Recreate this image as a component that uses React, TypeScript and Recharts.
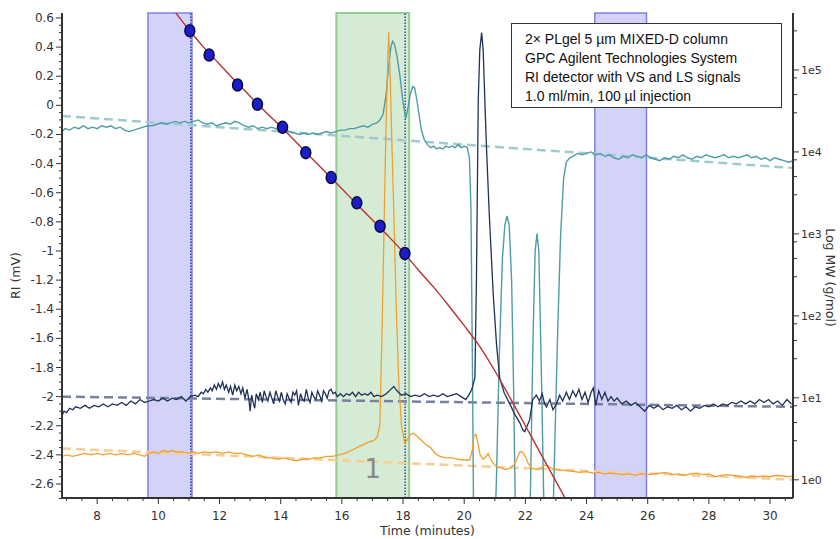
import React from "react";
import { ComposedChart, Line, Scatter, XAxis, YAxis, ReferenceArea, ReferenceLine, Label } from "recharts";

type Pt = [number, number];

// axis ticks
const timeTicks = [8, 10, 12, 14, 16, 18, 20, 22, 24, 26, 28, 30];
const riTicks = [0.6, 0.4, 0.2, 0, -0.2, -0.4, -0.6, -0.8, -1, -1.2, -1.4, -1.6, -1.8, -2, -2.2, -2.4, -2.6];
const mwTicks = [1, 10, 100, 1000, 10000, 100000];
const mwMinorSteps = [3, 5, 8];

// light scattering trace (teal)
const lsTrace: Pt[] = [
  [6.85, -0.18], [6.95, -0.16], [7.1, -0.17], [7.25, -0.15], [7.4, -0.16], [7.55, -0.14], [7.7, -0.16], [7.85, -0.15],
  [8.0, -0.16], [8.15, -0.14], [8.3, -0.15], [8.45, -0.14], [8.6, -0.16], [8.75, -0.15], [8.9, -0.17], [9.05, -0.18],
  [9.2, -0.17], [9.35, -0.16], [9.5, -0.15], [9.65, -0.14], [9.8, -0.14], [9.95, -0.13], [10.1, -0.12], [10.25, -0.13],
  [10.4, -0.12], [10.55, -0.11], [10.7, -0.12], [10.85, -0.11], [11.0, -0.12], [11.15, -0.11], [11.3, -0.1], [11.45, -0.12],
  [11.6, -0.13], [11.75, -0.12], [11.9, -0.14], [12.05, -0.13], [12.2, -0.12], [12.35, -0.13], [12.5, -0.11], [12.65, -0.12],
  [12.8, -0.14], [12.95, -0.15], [13.1, -0.14], [13.25, -0.16], [13.4, -0.15], [13.55, -0.16], [13.7, -0.15], [13.85, -0.16],
  [14.0, -0.15], [14.15, -0.17], [14.3, -0.18], [14.45, -0.19], [14.6, -0.2], [14.75, -0.19], [14.9, -0.2], [15.05, -0.19],
  [15.2, -0.2], [15.35, -0.19], [15.5, -0.18], [15.65, -0.19], [15.8, -0.18], [15.95, -0.17], [16.1, -0.17], [16.25, -0.16],
  [16.4, -0.16], [16.55, -0.15], [16.7, -0.14], [16.85, -0.15], [17.0, -0.13], [17.15, -0.12], [17.25, -0.1], [17.35, -0.06],
  [17.45, 0.08], [17.52, 0.25], [17.6, 0.4], [17.66, 0.44], [17.72, 0.42], [17.8, 0.34], [17.9, 0.2], [18.0, 0.02],
  [18.09, -0.09], [18.16, -0.02], [18.24, 0.08], [18.32, 0.13], [18.38, 0.12], [18.45, 0.04], [18.52, -0.06], [18.6, -0.17],
  [18.7, -0.24], [18.8, -0.27], [18.9, -0.29], [19.0, -0.28], [19.1, -0.3], [19.2, -0.29], [19.3, -0.3], [19.4, -0.28],
  [19.5, -0.29], [19.6, -0.28], [19.7, -0.29], [19.8, -0.27], [19.9, -0.29], [20.0, -0.28], [20.1, -0.29], [20.17, -0.36],
  [20.22, -0.7], [20.27, -1.8], [20.32, -3.2], [20.95, -3.2], [21.05, -2.6], [21.15, -1.7], [21.25, -1.05], [21.33, -0.82],
  [21.4, -0.76], [21.47, -0.82], [21.55, -1.2], [21.62, -2.0], [21.68, -2.9], [21.75, -3.2], [22.1, -3.2], [22.17, -2.6],
  [22.25, -1.6], [22.32, -1.0], [22.38, -0.88], [22.44, -1.0], [22.52, -1.8], [22.6, -2.7], [22.66, -3.2], [22.86, -3.2],
  [22.93, -2.6], [23.05, -1.6], [23.15, -0.9], [23.25, -0.5], [23.34, -0.39], [23.45, -0.36], [23.55, -0.35], [23.7, -0.33],
  [23.85, -0.34], [24.0, -0.33], [24.15, -0.32], [24.3, -0.34], [24.45, -0.33], [24.6, -0.35], [24.75, -0.34], [24.9, -0.36],
  [25.05, -0.37], [25.2, -0.35], [25.35, -0.36], [25.5, -0.34], [25.65, -0.35], [25.8, -0.36], [25.95, -0.34], [26.1, -0.36],
  [26.25, -0.37], [26.4, -0.38], [26.55, -0.36], [26.7, -0.37], [26.85, -0.35], [27.0, -0.36], [27.15, -0.34], [27.3, -0.36],
  [27.45, -0.37], [27.6, -0.35], [27.75, -0.36], [27.9, -0.34], [28.05, -0.35], [28.2, -0.36], [28.35, -0.35], [28.5, -0.34],
  [28.65, -0.36], [28.8, -0.35], [28.95, -0.36], [29.1, -0.35], [29.25, -0.34], [29.4, -0.36], [29.55, -0.35], [29.7, -0.37],
  [29.85, -0.36], [30.0, -0.38], [30.15, -0.36], [30.3, -0.37], [30.45, -0.38], [30.6, -0.39], [30.75, -0.38],
];

// viscometer trace (navy)
const vsTrace: Pt[] = [
  [6.85, -2.13], [6.92, -2.1], [7.0, -2.11], [7.1, -2.08], [7.2, -2.09], [7.3, -2.07], [7.45, -2.08], [7.6, -2.06],
  [7.75, -2.08], [7.9, -2.06], [8.05, -2.07], [8.2, -2.05], [8.35, -2.07], [8.5, -2.05], [8.65, -2.06], [8.8, -2.04],
  [8.95, -2.06], [9.1, -2.03], [9.25, -2.05], [9.4, -2.02], [9.55, -2.04], [9.7, -2.03], [9.85, -2.02], [10.0, -2.03],
  [10.15, -2.01], [10.3, -2.03], [10.45, -2.01], [10.6, -2.02], [10.75, -2.0], [10.9, -2.03], [11.05, -2.0], [11.2, -1.99],
  [11.3, -2.0], [11.4, -1.97], [11.47, -1.98], [11.55, -1.95], [11.62, -1.97], [11.7, -1.94], [11.76, -1.96], [11.83, -1.92],
  [11.9, -1.95], [11.96, -1.91], [12.03, -1.94], [12.1, -1.9], [12.16, -1.95], [12.22, -1.92], [12.3, -1.97], [12.36, -1.93],
  [12.43, -1.99], [12.5, -1.92], [12.56, -1.96], [12.63, -1.93], [12.7, -1.98], [12.76, -1.94], [12.83, -2.01], [12.9, -1.95],
  [12.96, -2.02], [13.0, -2.1], [13.05, -1.99], [13.1, -2.04], [13.15, -2.08], [13.2, -1.98], [13.27, -2.02], [13.33, -1.97],
  [13.4, -2.04], [13.46, -1.96], [13.52, -2.0], [13.58, -2.03], [13.65, -1.97], [13.71, -2.01], [13.77, -2.05], [13.84, -1.96],
  [13.9, -2.0], [13.96, -2.03], [14.02, -1.97], [14.08, -2.02], [14.15, -2.05], [14.21, -1.98], [14.27, -2.01], [14.34, -2.04],
  [14.4, -1.97], [14.46, -1.99], [14.52, -1.96], [14.58, -2.06], [14.65, -1.98], [14.71, -2.02], [14.77, -2.03], [14.84, -1.95],
  [14.9, -2.01], [14.96, -2.04], [15.02, -1.97], [15.08, -2.0], [15.15, -2.02], [15.21, -1.96], [15.27, -1.99], [15.34, -2.03],
  [15.4, -1.96], [15.46, -1.98], [15.52, -2.01], [15.58, -1.96], [15.65, -1.95], [15.71, -1.98], [15.78, -1.97], [15.85, -2.0],
  [15.95, -1.98], [16.05, -2.0], [16.15, -1.98], [16.25, -1.99], [16.35, -1.97], [16.45, -2.0], [16.55, -1.97], [16.65, -1.99],
  [16.75, -1.98], [16.85, -1.99], [16.95, -1.97], [17.05, -2.0], [17.15, -1.99], [17.3, -2.0], [17.45, -1.98], [17.6, -1.95],
  [17.7, -1.93], [17.8, -1.96], [17.95, -1.99], [18.1, -1.98], [18.25, -2.0], [18.4, -1.99], [18.55, -2.0], [18.7, -1.98],
  [18.85, -2.0], [19.0, -1.99], [19.15, -2.0], [19.3, -1.98], [19.45, -2.0], [19.6, -1.99], [19.75, -1.98], [19.9, -2.0],
  [20.05, -2.02], [20.15, -1.99], [20.25, -1.95], [20.35, -1.87], [20.4, -1.2], [20.46, 0.04], [20.51, 0.38], [20.57, 0.5],
  [20.62, 0.38], [20.68, 0.0], [20.73, -0.3], [20.82, -0.75], [20.95, -1.3], [21.06, -1.65], [21.16, -1.87], [21.3, -1.97],
  [21.49, -2.05], [21.65, -2.12], [21.82, -2.18], [21.92, -2.23], [21.98, -2.24], [22.06, -2.2], [22.14, -2.16], [22.24, -2.02],
  [22.36, -1.99], [22.46, -2.03], [22.55, -1.98], [22.63, -2.05], [22.69, -2.07], [22.8, -2.02], [22.9, -2.09], [23.02, -2.05],
  [23.12, -1.99], [23.22, -2.03], [23.34, -1.97], [23.44, -2.02], [23.55, -1.96], [23.65, -2.0], [23.75, -1.95], [23.85, -2.02],
  [23.95, -1.97], [24.05, -2.04], [24.15, -1.97], [24.22, -1.94], [24.3, -2.06], [24.4, -1.96], [24.5, -2.02], [24.6, -1.97],
  [24.7, -2.03], [24.8, -2.0], [24.9, -2.03], [25.0, -2.01], [25.15, -2.05], [25.3, -2.03], [25.45, -2.06], [25.6, -2.04],
  [25.75, -2.07], [25.9, -2.1], [26.05, -2.06], [26.2, -2.08], [26.35, -2.06], [26.5, -2.09], [26.65, -2.07], [26.8, -2.08],
  [26.95, -2.06], [27.1, -2.09], [27.25, -2.07], [27.4, -2.1], [27.55, -2.07], [27.7, -2.08], [27.85, -2.06], [28.0, -2.07],
  [28.15, -2.05], [28.3, -2.07], [28.45, -2.05], [28.6, -2.06], [28.75, -2.04], [28.9, -2.05], [29.05, -2.03], [29.2, -2.05],
  [29.35, -2.03], [29.5, -2.05], [29.65, -2.02], [29.8, -2.04], [29.95, -2.02], [30.1, -2.05], [30.25, -2.03], [30.4, -2.06],
  [30.55, -2.02], [30.7, -2.05],
];

// refractive index trace (orange)
const riTrace: Pt[] = [
  [6.85, -2.41], [7.0, -2.4], [7.2, -2.41], [7.4, -2.4], [7.6, -2.39], [7.8, -2.4], [8.0, -2.39], [8.2, -2.4],
  [8.4, -2.39], [8.6, -2.4], [8.8, -2.39], [9.0, -2.4], [9.2, -2.39], [9.4, -2.4], [9.55, -2.41], [9.7, -2.39],
  [9.85, -2.38], [10.0, -2.39], [10.15, -2.37], [10.3, -2.38], [10.45, -2.37], [10.6, -2.38], [10.8, -2.38], [11.0, -2.39],
  [11.15, -2.38], [11.3, -2.39], [11.5, -2.38], [11.7, -2.385], [11.9, -2.38], [12.1, -2.39], [12.3, -2.38], [12.5, -2.39],
  [12.7, -2.39], [12.9, -2.4], [13.1, -2.41], [13.3, -2.4], [13.5, -2.42], [13.7, -2.42], [13.9, -2.43], [14.1, -2.42],
  [14.3, -2.43], [14.5, -2.44], [14.7, -2.43], [14.9, -2.43], [15.1, -2.42], [15.3, -2.42], [15.5, -2.41], [15.7, -2.41],
  [15.9, -2.4], [16.1, -2.39], [16.3, -2.37], [16.5, -2.35], [16.7, -2.33], [16.9, -2.31], [17.05, -2.3], [17.15, -2.28],
  [17.24, -2.2], [17.32, -1.5], [17.4, -0.6], [17.46, 0.0], [17.53, 0.5], [17.58, 0.2], [17.64, -0.3], [17.7, -0.75],
  [17.78, -1.4], [17.86, -1.9], [17.95, -2.2], [18.06, -2.32], [18.15, -2.29], [18.25, -2.26], [18.33, -2.25], [18.45, -2.27],
  [18.6, -2.3], [18.75, -2.33], [18.9, -2.35], [19.05, -2.39], [19.2, -2.41], [19.4, -2.42], [19.6, -2.42], [19.8, -2.43],
  [20.0, -2.435], [20.18, -2.435], [20.26, -2.37], [20.32, -2.27], [20.38, -2.26], [20.45, -2.32], [20.52, -2.4], [20.62, -2.43],
  [20.72, -2.41], [20.78, -2.39], [20.84, -2.42], [20.92, -2.45], [21.05, -2.48], [21.2, -2.49], [21.35, -2.5], [21.5, -2.49],
  [21.62, -2.47], [21.72, -2.43], [21.82, -2.38], [21.9, -2.38], [22.0, -2.41], [22.1, -2.46], [22.2, -2.49], [22.35, -2.5],
  [22.5, -2.49], [22.62, -2.47], [22.72, -2.475], [22.85, -2.49], [23.0, -2.5], [23.2, -2.505], [23.4, -2.51], [23.6, -2.515],
  [23.8, -2.52], [24.0, -2.515], [24.2, -2.525], [24.4, -2.52], [24.6, -2.53], [24.8, -2.525], [25.0, -2.53], [25.2, -2.535],
  [25.4, -2.53], [25.6, -2.54], [25.8, -2.53], [26.0, -2.535], [26.2, -2.53], [26.4, -2.525], [26.6, -2.52], [26.8, -2.535],
  [27.0, -2.53], [27.2, -2.54], [27.4, -2.53], [27.6, -2.525], [27.8, -2.535], [28.0, -2.53], [28.2, -2.55], [28.4, -2.54],
  [28.6, -2.535], [28.8, -2.54], [29.0, -2.545], [29.2, -2.555], [29.4, -2.545], [29.6, -2.55], [29.8, -2.545], [30.0, -2.55],
  [30.2, -2.54], [30.4, -2.545], [30.6, -2.55], [30.75, -2.545],
];

// baselines (dashed)
const lsBaseline: Pt[] = [[6.85, -0.073], [30.75, -0.43]];
const vsBaseline: Pt[] = [[6.85, -2.0], [30.75, -2.07]];
const riBaseline: Pt[] = [[6.85, -2.356], [30.75, -2.57]];

// calibration curve, MW (g/mol) vs retention time
const calibration: Pt[] = [
  [10.5, 537000], [11.0, 309000], [11.5, 186000], [12.0, 117500], [12.5, 74100], [13.0, 47900], [13.5, 30900],
  [14.0, 20400], [14.5, 13200], [15.0, 8510], [15.5, 5500], [16.0, 3550], [16.5, 2290], [17.0, 1480], [17.5, 955],
  [18.0, 603], [18.5, 363], [19.0, 224], [19.5, 132], [20.0, 75.9], [20.5, 42.7], [21.0, 21.4], [21.5, 10.0],
  [22.0, 4.57], [22.5, 2.09], [23.0, 0.955], [23.5, 0.437],
];

// calibration standards
const standards: Pt[] = [
  [11.03, 300000], [11.66, 152000], [12.59, 65600], [13.24, 38200], [14.06, 20000],
  [14.82, 9800], [15.65, 4860], [16.49, 2390], [17.25, 1240], [18.06, 575],
];

// integration / baseline regions
const baselineRegions: Pt[] = [[9.66, 11.1], [24.27, 25.96]];
const peakRegion: Pt = [15.82, 18.2];
const markerTimes = [11.06, 18.07];

const rows = (pts: Pt[]) => pts.map(([t, v]) => ({ t, v }));

const axisColor = "#333";
const font = "DejaVu Sans";

const timeMinor: number[] = [];
for (let k = 14; k <= 61; k++) timeMinor.push(k / 2);
const riMinor: number[] = [];
for (let k = 12; k >= -54; k--) riMinor.push(k / 20);
const mwAll: number[] = [];
mwTicks.forEach((m) => {
  mwAll.push(m);
  mwMinorSteps.forEach((s) => m * s < 495000 && mwAll.push(m * s));
});

const BottomTick = (props: any) => {
  const { x, y, payload } = props;
  const major = timeTicks.includes(payload.value);
  return (
    <g>
      <line x1={x} x2={x} y1={y} y2={y + (major ? 6 : 3)} stroke={axisColor} strokeWidth={1} />
      {major && (
        <text x={x} y={y + 22} textAnchor="middle" fontSize={12} fontFamily={font} fill={axisColor}>
          {payload.value}
        </text>
      )}
    </g>
  );
};

const LeftTick = (props: any) => {
  const { x, y, payload } = props;
  const major = riTicks.some((r) => Math.abs(r - payload.value) < 1e-6);
  return (
    <g>
      <line x1={x} x2={x - (major ? 6 : 3)} y1={y} y2={y} stroke={axisColor} strokeWidth={1} />
      {major && (
        <text x={x - 8} y={y + 4} textAnchor="end" fontSize={12} fontFamily={font} fill={axisColor}>
          {String(Number(payload.value.toFixed(2)))}
        </text>
      )}
    </g>
  );
};

const RightTick = (props: any) => {
  const { x, y, payload } = props;
  const major = mwTicks.includes(payload.value);
  return (
    <g>
      <line x1={x} x2={x + (major ? 6 : 4)} y1={y} y2={y} stroke={axisColor} strokeWidth={1} />
      {major && (
        <text x={x + 8} y={y + 4} textAnchor="start" fontSize={11} fontFamily={font} fill={axisColor}>
          {`1e${Math.round(Math.log10(payload.value))}`}
        </text>
      )}
    </g>
  );
};

const StandardDot = (props: any) => (
  <ellipse cx={props.cx} cy={props.cy} rx={5} ry={6} fill="#1c1cc8" stroke="#0a0a48" strokeWidth={1.5} />
);

export default function App() {
  return (
    <div style={{ position: "absolute", left: 0, top: 0, width: 840, height: 539, background: "#fff" }}>
      <ComposedChart width={840} height={539} margin={{ top: 13, right: 0, bottom: 0, left: 0 }}>
        <XAxis
          dataKey="t"
          type="number"
          domain={[6.85, 30.75]}
          ticks={timeMinor}
          interval={0}
          allowDataOverflow
          height={41}
          tickSize={0}
          tickMargin={0}
          tickLine={false}
          tick={<BottomTick />}
          axisLine={{ stroke: axisColor, strokeWidth: 2 }}
        >
          <Label value="Time (minutes)" position="insideBottom" offset={4} fill={axisColor} fontSize={12.5} fontFamily={font} />
        </XAxis>
        <YAxis
          type="number"
          domain={[-2.696, 0.634]}
          ticks={riMinor}
          interval={0}
          allowDataOverflow
          width={62}
          tickSize={0}
          tickMargin={0}
          tickLine={false}
          tick={<LeftTick />}
          axisLine={{ stroke: axisColor, strokeWidth: 2 }}
        >
          <Label value="RI (mV)" angle={-90} position="insideLeft" offset={16} dy={20} fill={axisColor} fontSize={12.5} fontFamily={font} style={{ textAnchor: "middle" }} />
        </YAxis>
        <YAxis
          yAxisId="mw"
          orientation="right"
          type="number"
          scale="log"
          domain={[0.6, 495000]}
          ticks={mwAll}
          interval={0}
          allowDataOverflow
          width={47}
          tickSize={0}
          tickMargin={0}
          tickLine={false}
          tick={<RightTick />}
          axisLine={{ stroke: axisColor, strokeWidth: 2 }}
        >
          <Label value="Log MW (g/mol)" angle={90} position="insideRight" offset={10} dy={22} fill={axisColor} fontSize={12.5} fontFamily={font} style={{ textAnchor: "middle" }} />
        </YAxis>

        {baselineRegions.map(([a, b], i) => (
          <ReferenceArea key={`b${i}`} x1={a} x2={b} fill="#d3d3fa" fillOpacity={1} stroke="#8080e4" strokeWidth={1.5} />
        ))}
        <ReferenceArea
          x1={peakRegion[0]}
          x2={peakRegion[1]}
          fill="#d6ebd4"
          fillOpacity={1}
          stroke="#92cc92"
          strokeWidth={2}
          label={{ value: "1", position: "insideBottom", offset: 20, fill: "#888", fontSize: 26, fontFamily: font }}
        />
        {markerTimes.map((t) => (
          <ReferenceLine key={t} x={t} stroke="#2f45c0" strokeWidth={1.5} strokeDasharray="1.5 1.5" />
        ))}

        <Line data={rows(lsBaseline)} dataKey="v" stroke="#9fcbcf" strokeWidth={2.5} strokeDasharray="9 5" dot={false} isAnimationActive={false} />
        <Line data={rows(vsBaseline)} dataKey="v" stroke="#7a7f9e" strokeWidth={2.5} strokeDasharray="9 5" dot={false} isAnimationActive={false} />
        <Line data={rows(riBaseline)} dataKey="v" stroke="#f6cd96" strokeWidth={2.5} strokeDasharray="9 5" dot={false} isAnimationActive={false} />

        <Line data={rows(lsTrace)} dataKey="v" stroke="#4f9ca6" strokeWidth={1.4} dot={false} isAnimationActive={false} />
        <Line data={rows(riTrace)} dataKey="v" stroke="#f0a032" strokeWidth={1.3} dot={false} isAnimationActive={false} />
        <Line data={rows(vsTrace)} dataKey="v" stroke="#1e3158" strokeWidth={1.3} dot={false} isAnimationActive={false} />

        <Line yAxisId="mw" data={rows(calibration)} dataKey="v" type="monotone" stroke="#b83232" strokeWidth={1.4} dot={false} isAnimationActive={false} />
        <Scatter yAxisId="mw" data={rows(standards)} dataKey="v" shape={<StandardDot />} isAnimationActive={false} />
      </ComposedChart>
      <div
        style={{
          position: "absolute",
          left: 511,
          top: 23,
          width: 256,
          height: 77,
          padding: "6px 0 0 13px",
          border: "1px solid #333",
          background: "#fff",
          fontFamily: "'Liberation Sans', Arial, sans-serif",
          fontSize: 14,
          lineHeight: "19px",
          color: "#111",
        }}
      >
        <div>2× PLgel 5 µm MIXED-D column</div>
        <div>GPC Agilent Technologies System</div>
        <div>RI detector with VS and LS signals</div>
        <div>1.0 ml/min, 100 µl injection</div>
      </div>
    </div>
  );
}
